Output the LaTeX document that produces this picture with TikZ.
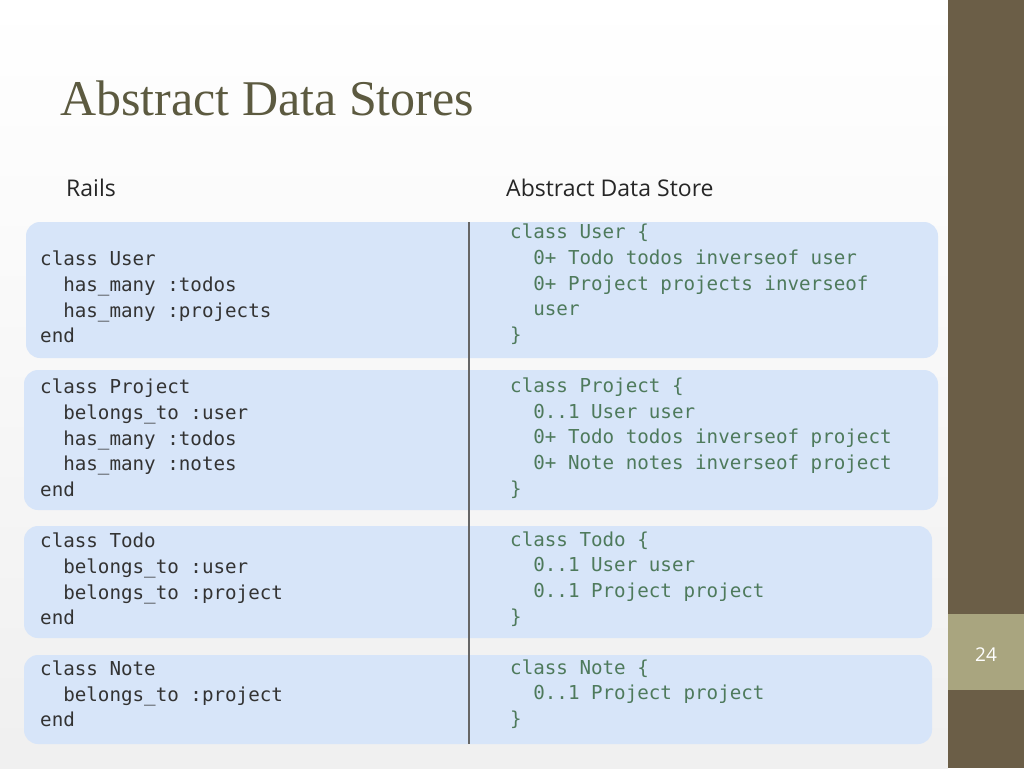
\documentclass[tikz,border=0pt]{standalone}
\usepackage{fontspec}
\setmainfont{Open Sans}
\newfontfamily\codefont{DejaVu Sans Mono}
\newfontfamily\titlefont{Liberation Serif}
\definecolor{boxfill}{HTML}{D7E5F9}
\definecolor{sidedark}{HTML}{6B5E47}
\definecolor{sidelight}{HTML}{A9A57F}
\definecolor{titlec}{HTML}{5C5A40}
\definecolor{codel}{HTML}{333333}
\definecolor{coder}{HTML}{4E7A5C}
\begin{document}
\begin{tikzpicture}[x=1pt,y=-1pt,
  cbox/.style={fill=boxfill,draw=none,rounded corners=14pt},
  lcode/.style={anchor=west,inner sep=0pt,font=\codefont\fontsize{19.2}{25.7}\selectfont,text=codel,align=left},
  rcode/.style={lcode,text=coder}]
\useasboundingbox (0,0) rectangle (1024,768);
\shade[top color=white,bottom color=gray!12] (0,0) rectangle (948,768);
\fill[sidedark] (948,0) rectangle (1024,768);
\fill[sidelight] (948,614) rectangle (1024,690);
\node[text=white,font=\fontsize{19}{22}\selectfont] (pg) at (986,655) {24};
\node[anchor=west,inner sep=0pt,text=titlec,font=\titlefont\fontsize{50}{54}\selectfont,xscale=1.0] (title) at (60,98) {Abstract Data Stores};
\node[anchor=west,inner sep=0pt,text=black!85,font=\fontsize{23}{26}\selectfont] (h1) at (66,188) {Rails};
\node[anchor=west,inner sep=0pt,text=black!85,font=\fontsize{23}{26}\selectfont] (h2) at (506,188) {Abstract Data Store};
\fill[cbox] (26,222) rectangle (938,358);
\fill[cbox] (24,370) rectangle (938,510);
\fill[cbox] (24,526) rectangle (932,638);
\fill[cbox] (24,655) rectangle (932,744);
\coordinate (dt) at (469,222);
\coordinate (db) at (469,744);
\draw[line width=2pt,black!60] (dt) -- (db);
% box 1
\node[lcode] (l1) at (40,297) {class User\\\ \ has\_many :todos\\\ \ has\_many :projects\\end};
\node[rcode] (r1) at (510,284.5) {class User \{\\\ \ 0+ Todo todos inverseof user\\\ \ 0+ Project projects inverseof\\\ \ user\\\}};
% box 2
\node[lcode] (l2) at (40,438) {class Project\\\ \ belongs\_to :user\\\ \ has\_many :todos\\\ \ has\_many :notes\\end};
\node[rcode] (r2) at (510,438) {class Project \{\\\ \ 0..1 User user\\\ \ 0+ Todo todos inverseof project\\\ \ 0+ Note notes inverseof project\\\}};
% box 3
\node[lcode] (l3) at (40,579) {class Todo\\\ \ belongs\_to :user\\\ \ belongs\_to :project\\end};
\node[rcode] (r3) at (510,579) {class Todo \{\\\ \ 0..1 User user\\\ \ 0..1 Project project\\\}};
% box 4
\node[lcode] (l4) at (40,694) {class Note\\\ \ belongs\_to :project\\end};
\node[rcode] (r4) at (510,694) {class Note \{\\\ \ 0..1 Project project\\\}};
\end{tikzpicture}
\end{document}
